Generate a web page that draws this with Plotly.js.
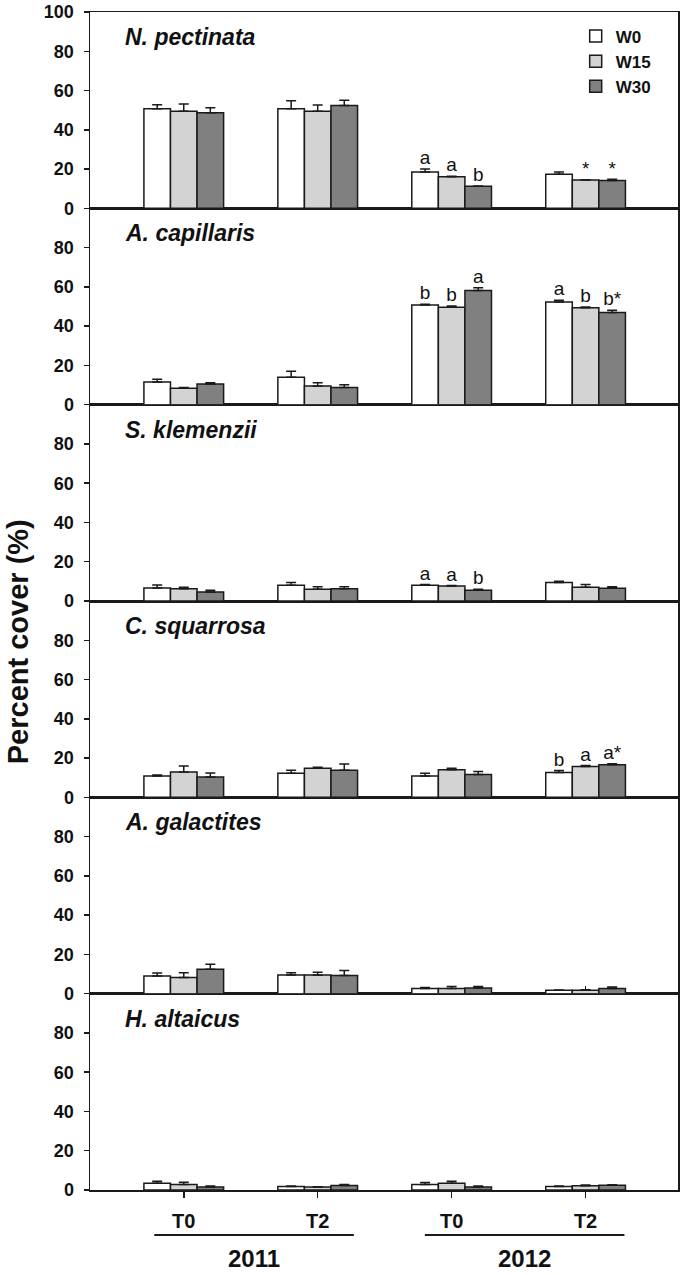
<!DOCTYPE html>
<html>
<head>
<meta charset="utf-8">
<script src="https://cdn.plot.ly/plotly-3.0.1.min.js"></script>
<style>html,body{margin:0;padding:0;background:#fff;}#chart{width:685px;height:1275px;}</style>
</head>
<body>
<div id="chart"></div>
<script>
// ---------------- data ----------------
const periods = ['T0', 'T2', 'T0', 'T2'];
const periodPos = [0, 1, 2, 3];
const years = ['2011', '2012'];
const species = ['N. pectinata', 'A. capillaris', 'S. klemenzii', 'C. squarrosa', 'A. galactites', 'H. altaicus'];
const seriesNames = ['W0', 'W15', 'W30'];

// mean percent cover, one row per species (top to bottom), columns = 2011 T0, 2011 T2, 2012 T0, 2012 T2
const meanW0 = [
  [50.7, 50.7, 18.5, 17.3],
  [11.6, 14.0, 50.8, 52.3],
  [6.6, 8.0, 8.0, 9.4],
  [10.9, 12.3, 10.9, 12.6],
  [9.0, 9.5, 2.6, 1.7],
  [3.5, 1.8, 2.8, 1.8]
];
const meanW15 = [
  [49.5, 49.4, 16.1, 14.4],
  [8.3, 9.5, 49.6, 49.3],
  [6.3, 6.0, 7.7, 7.0],
  [12.9, 14.8, 14.0, 15.7],
  [8.2, 9.5, 2.6, 1.7],
  [2.8, 1.5, 3.5, 2.2]
];
const meanW30 = [
  [48.7, 52.4, 11.2, 14.2],
  [10.5, 8.7, 58.1, 47.0],
  [4.6, 6.3, 5.5, 6.5],
  [10.4, 13.8, 11.6, 16.6],
  [12.4, 9.2, 2.9, 2.6],
  [1.5, 2.3, 1.5, 2.4]
];
// standard errors
const seW0 = [
  [2.1, 4.1, 1.5, 1.2],
  [1.3, 3.0, 0.4, 0.9],
  [1.6, 1.4, 0.4, 0.7],
  [0.5, 1.5, 1.4, 1.1],
  [1.5, 1.2, 0.6, 0.2],
  [1.0, 0.2, 1.0, 0.2]
];
const seW15 = [
  [3.6, 3.2, 0.3, 0.2],
  [0.5, 1.6, 0.7, 0.5],
  [0.7, 1.2, 0.2, 1.4],
  [3.0, 0.5, 0.8, 0.5],
  [2.5, 1.4, 1.1, 0.3],
  [1.2, 0.2, 1.0, 0.4]
];
const seW30 = [
  [2.5, 2.6, 0.2, 0.6],
  [0.6, 1.5, 1.5, 1.1],
  [0.9, 0.9, 0.5, 0.8],
  [2.0, 3.2, 1.5, 0.5],
  [2.6, 2.6, 0.7, 0.8],
  [0.5, 0.5, 0.5, 0.3]
];
// significance letters
const letW0 = [
  ['', '', 'a', ''],
  ['', '', 'b', 'a'],
  ['', '', 'a', ''],
  ['', '', '', 'b'],
  ['', '', '', ''],
  ['', '', '', '']
];
const letW15 = [
  ['', '', 'a', '*'],
  ['', '', 'b', 'b'],
  ['', '', 'a', ''],
  ['', '', '', 'a'],
  ['', '', '', ''],
  ['', '', '', '']
];
const letW30 = [
  ['', '', 'b', '*'],
  ['', '', 'a', 'b*'],
  ['', '', 'b', ''],
  ['', '', '', 'a*'],
  ['', '', '', ''],
  ['', '', '', '']
];
const yTicksTop = [0, 20, 40, 60, 80, 100];
const yTicksOther = [0, 20, 40, 60, 80];

// ---------------- styling ----------------
const FONT = '"Liberation Sans", Arial, sans-serif';
const fills = ['#ffffff', '#d3d3d3', '#808080'];
const LINE = '#1a1a1a';
const bargap = 0.405;
const barW = (1 - bargap) / 3;

const means = [meanW0, meanW15, meanW30];
const ses = [seW0, seW15, seW30];
const lets = [letW0, letW15, letW30];
const nP = species.length;

const traces = [];
const layout = {
  width: 685, height: 1275,
  margin: {l: 90, r: 7, t: 12, b: 85},
  paper_bgcolor: '#fff', plot_bgcolor: '#fff',
  barmode: 'group', bargap: bargap, bargroupgap: 0,
  font: {family: FONT, color: '#111'},
  showlegend: true,
  legend: {
    x: 0.826, y: 0.9945, xanchor: 'left', yanchor: 'top',
    font: {family: FONT, size: 17, color: '#111', weight: 'bold'},
    bgcolor: 'rgba(0,0,0,0)', tracegroupgap: 0, itemwidth: 30
  },
  xaxis: {
    range: [-0.70, 3.69], anchor: 'y',
    tickvals: periodPos, ticktext: periods,
    ticks: 'outside', ticklen: 6, tickwidth: 1.5, tickcolor: LINE,
    showline: true, linewidth: 1.5, linecolor: LINE, mirror: 'all',
    showgrid: false, zeroline: false, ticklabelstandoff: 6,
    tickfont: {family: FONT, size: 20, color: '#111', weight: 'bold'}
  },
  annotations: [], shapes: []
};

for (let p = 0; p < nP; p++) {
  // p = 0 is top panel; axis index 1 is bottom panel
  const axIdx = nP - p;
  const yName = axIdx === 1 ? 'y' : 'y' + axIdx;
  const yKey = axIdx === 1 ? 'yaxis' : 'yaxis' + axIdx;
  layout[yKey] = {
    domain: [(axIdx - 1) / nP, axIdx / nP], anchor: 'x',
    range: [0, 100],
    tickvals: p === 0 ? yTicksTop : yTicksOther,
    ticks: 'outside', ticklen: 5, tickwidth: 1.5, tickcolor: LINE,
    showline: true, linewidth: 1.5, linecolor: LINE, mirror: true,
    showgrid: false, zeroline: false, ticklabelstandoff: 6,
    tickfont: {family: FONT, size: 18, color: '#111', weight: 'bold'}
  };
  layout.annotations.push({
    text: species[p], xref: 'paper', yref: yName, x: 0.056, y: 87.3,
    xanchor: 'left', yanchor: 'middle', showarrow: false,
    font: {family: FONT, size: 23, color: '#111', weight: 'bold', style: 'italic'}
  });
  for (let s = 0; s < 3; s++) {
    traces.push({
      type: 'bar', name: seriesNames[s], x: periodPos, y: means[s][p],
      xaxis: 'x', yaxis: yName, legendgroup: seriesNames[s], showlegend: p === 0,
      marker: {color: fills[s], line: {color: LINE, width: 1.5}},
      error_y: {type: 'data', symmetric: false, array: ses[s][p], arrayminus: means[s][p].map(() => 0),
                color: LINE, thickness: 1.5, width: 5},
      hoverinfo: 'skip'
    });
  }
  for (let s = 0; s < 3; s++) {
    const tx = [], ty = [], tt = [];
    for (let i = 0; i < periodPos.length; i++) {
      if (lets[s][p][i]) {
        tx.push(periodPos[i] + (s - 1) * barW);
        ty.push(means[s][p][i] + ses[s][p][i]);
        tt.push(lets[s][p][i]);
      }
    }
    if (tt.length) {
      traces.push({
        type: 'scatter', mode: 'text', x: tx, y: ty, text: tt,
        xaxis: 'x', yaxis: yName, showlegend: false, hoverinfo: 'skip',
        textposition: 'top center',
        textfont: {family: FONT, size: 19, color: '#111'}
      });
    }
  }
}

// year grouping under the x axis
const yearSpans = [[-0.22, 1.27], [1.80, 3.29]];
years.forEach((yr, k) => {
  layout.shapes.push({
    type: 'line', xref: 'x', yref: 'paper',
    x0: yearSpans[k][0], x1: yearSpans[k][1], y0: -0.0382, y1: -0.0382,
    line: {color: LINE, width: 2}
  });
  layout.annotations.push({
    text: yr, xref: 'x', yref: 'paper', x: (yearSpans[k][0] + yearSpans[k][1]) / 2, y: -0.0585,
    xanchor: 'center', yanchor: 'middle', showarrow: false, borderpad: 0,
    font: {family: FONT, size: 24, color: '#111', weight: 'bold'}
  });
});

// y axis title
layout.annotations.push({
  text: 'Percent cover (%)', xref: 'paper', yref: 'paper', x: -0.1224, y: 0.465,
  xanchor: 'center', yanchor: 'middle', textangle: -90, showarrow: false,
  font: {family: FONT, size: 29, color: '#111', weight: 'bold'}
});

Plotly.newPlot('chart', traces, layout, {staticPlot: true, displayModeBar: false});
</script>
</body>
</html>
